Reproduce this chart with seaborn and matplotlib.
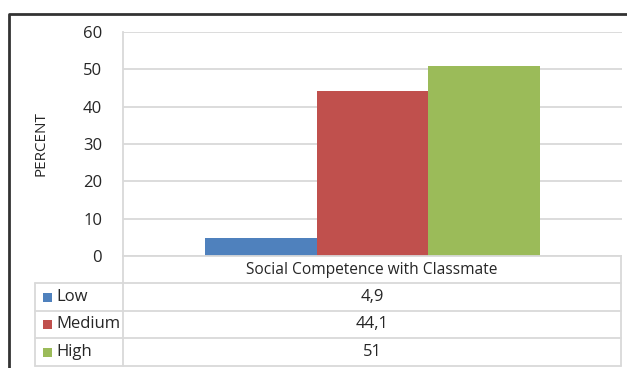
import matplotlib
matplotlib.use("Agg")
import matplotlib.pyplot as plt
import seaborn as sns
import pandas as pd
from matplotlib.lines import Line2D
from matplotlib.patches import Rectangle

# data
category = "Social Competence with Classmate"
levels = ["Low", "Medium", "High"]
percent = [4.9, 44.1, 51.0]
value_labels = ["4,9", "44,1", "51"]
colors = ["#4F81BD", "#C0504D", "#9BBB59"]
yticks = [0, 10, 20, 30, 40, 50, 60]

df = pd.DataFrame({"cat": [category] * len(levels), "level": levels, "pct": percent})

sns.set_style("white")
plt.rcParams["font.family"] = ["Open Sans", "DejaVu Sans"]
txt_c = "#262626"
plt.rcParams["text.color"] = txt_c
plt.rcParams["ytick.color"] = txt_c
plt.rcParams["axes.labelcolor"] = txt_c

W, H = 627, 368
fig = plt.figure(figsize=(W / 100, H / 100), dpi=100)


def fx(px):
    return px / W


def fy(py):
    return 1 - py / H


grid_c = "#D9D9D9"
ax = fig.add_axes([fx(123), fy(256), fx(622) - fx(123), fy(32) - fy(256)])
sns.barplot(data=df, x="cat", y="pct", hue="level", hue_order=levels,
            palette=colors, width=0.67, gap=0, saturation=1, linewidth=0,
            legend=False, ax=ax)
ax.set_ylim(0, 60)
ax.set_yticks(yticks)
ax.yaxis.grid(True, color=grid_c, linewidth=1.3)
ax.set_axisbelow(True)
ax.set_xticks([])
ax.set_xlabel("")
ax.set_ylabel("PERCENT", fontsize=11, labelpad=25)
ax.tick_params(axis="y", length=0, labelsize=12, pad=15)
for s in ["top", "right", "bottom"]:
    ax.spines[s].set_visible(False)
ax.spines["left"].set_color(grid_c)
ax.spines["left"].set_linewidth(1.3)

# data table under the chart
rows = [256, 283, 311, 338, 366]
x_key, x_div, x_right = 35, 123, 621


def hline(y, x0, x1):
    fig.add_artist(Line2D([fx(x0), fx(x1)], [fy(y), fy(y)], color=grid_c, lw=1.3))


def vline(x, y0, y1):
    fig.add_artist(Line2D([fx(x), fx(x)], [fy(y0), fy(y1)], color=grid_c, lw=1.3))


hline(rows[0], x_div, x_right)
for y in rows[1:]:
    hline(y, x_key, x_right)
vline(x_div, rows[0], rows[-1])
vline(x_right, rows[0], rows[-1])
vline(x_key, rows[1], rows[-1])

x_mid = (x_div + x_right) / 2
fig.text(fx(x_mid), fy((rows[0] + rows[1]) / 2), category, ha="center", va="center", fontsize=11.2)
for i, (lev, lab, c) in enumerate(zip(levels, value_labels, colors)):
    yc = (rows[i + 1] + rows[i + 2]) / 2
    fig.add_artist(Rectangle((fx(43), fy(yc + 4.5)), fx(9), 9 / H, color=c, lw=0))
    fig.text(fx(56), fy(yc), lev, ha="left", va="center", fontsize=12)
    fig.text(fx(x_mid), fy(yc), lab, ha="center", va="center", fontsize=12)

# outer chart frame
fig.add_artist(Line2D([fx(9), fx(9), fx(627)], [fy(368), fy(13.5), fy(13.5)],
                      color="#333333", lw=2))

fig.savefig("out.png", dpi=100)
